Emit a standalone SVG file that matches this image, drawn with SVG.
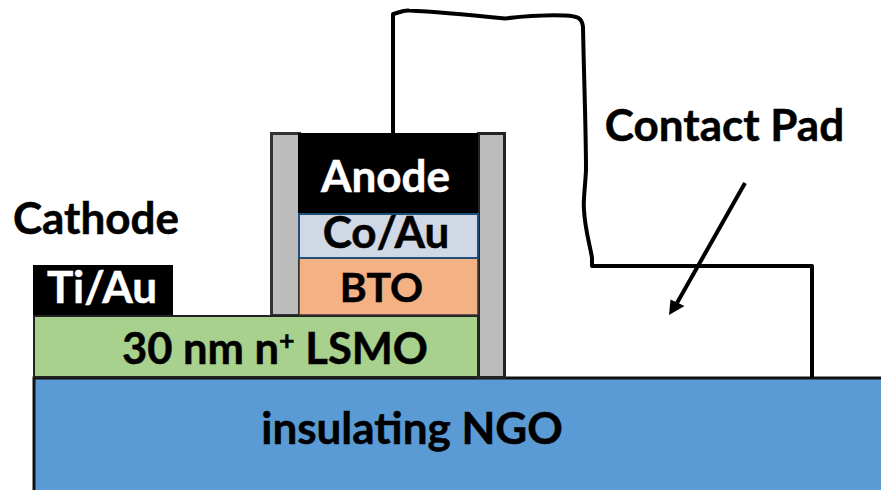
<svg xmlns="http://www.w3.org/2000/svg" width="881" height="490" viewBox="0 0 881 490">
<style>
text{font-family:"Lato","Open Sans","Liberation Sans",sans-serif;font-weight:700;fill:#000;stroke:#000;stroke-width:.5;text-anchor:middle;font-size:44px}
.w{fill:#fff;stroke:#fff}
.wire{fill:none;stroke:#000;stroke-width:4;stroke-linejoin:round;stroke-linecap:butt}
</style>
<rect width="881" height="490" fill="#fff"/>
<g id="ngo"><rect x="34" y="378" width="860" height="120" fill="#5b9bd5" stroke="#111" stroke-width="3"/><text x="412" y="444">insulating NGO</text></g>
<g id="pillar-left"><rect x="271.500" y="133.500" width="28" height="182" fill="#bcbcbc" stroke="#333" stroke-width="3"/></g>
<g id="pillar-right"><rect x="478.500" y="133.500" width="26" height="244" fill="#bcbcbc" stroke="#222" stroke-width="3"/></g>
<g id="lsmo"><rect x="34" y="316" width="444" height="61" fill="#a9d18e" stroke="#222" stroke-width="2"/><text x="275" y="364" style="font-size:43.500px">30 nm n<tspan font-size="27" dy="-14">+</tspan><tspan dy="14"> LSMO</tspan></text></g>
<g id="bto"><rect x="299" y="258" width="179" height="57" fill="#f4b183" stroke="#333" stroke-width="1.500"/><text x="381.500" y="302" style="font-size:41px">BTO</text></g>
<g id="coau"><rect x="299" y="214" width="179" height="44" fill="#d0d8e6" stroke="#1f4e79" stroke-width="2"/><text x="386" y="248">Co/Au</text></g>
<g id="anode"><rect x="298" y="133" width="180" height="80" fill="#000"/><text class="w" x="385.500" y="192">Anode</text></g>
<g id="tiau"><rect x="33" y="265" width="140" height="50" fill="#000"/><text class="w" x="102" y="303">Ti/Au</text></g>
<text x="96" y="234">Cathode</text>
<text x="724.500" y="141">Contact Pad</text>
<g id="connectors">
<path class="wire" d="M393 133V14C398 13 403 10 409 10.500C440 12 480 16 505 18.500C525 16 550 15 565 15.500C578 16 582 18 583 27C584 80 586 130 586 170C585 190 583 200 584 210C585 230 590 245 592 258V266H812V378"/>
<line class="wire" x1="745" y1="183" x2="677" y2="303"/>
<polygon points="669,315 670.500,299.500 684.500,306" fill="#000"/>
</g>
</svg>
